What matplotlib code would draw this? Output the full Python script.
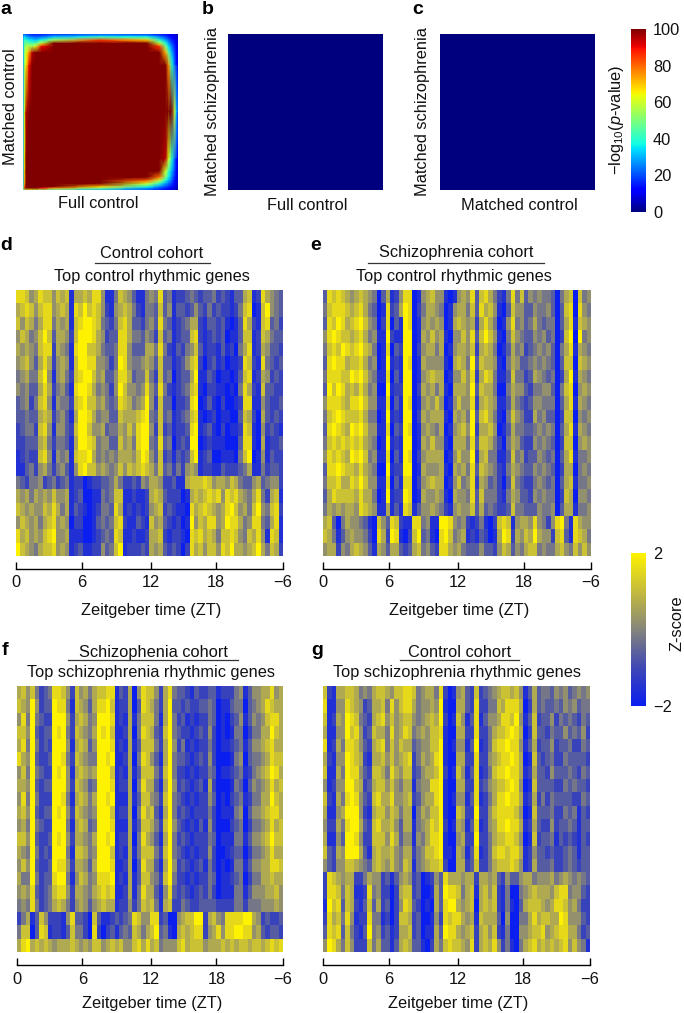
import numpy as np
import matplotlib
matplotlib.use("Agg")
import matplotlib.pyplot as plt
from matplotlib.colors import LinearSegmentedColormap, Normalize
from matplotlib.cm import ScalarMappable

plt.rcParams['font.family'] = ['Liberation Sans', 'DejaVu Sans']
plt.rcParams['mathtext.fontset'] = 'custom'
plt.rcParams['mathtext.rm'] = 'Liberation Sans'
plt.rcParams['mathtext.it'] = 'Liberation Sans:italic'

W, H = 684, 1013

# ---------- data ----------
rank_bins = [0, .01, .02, .04, .06, .08, .12, .2, .5, .8, .88, .92, .94, .96, .98, .99, 1]
overlap_a = [
    [22, 22, 20, 18, 16, 16, 16, 18, 22, 20, 16, 14, 12, 10, 8, 6, 5],
    [25, 28, 24, 20, 18, 18, 18, 22, 26, 24, 18, 15, 13, 11, 9, 7, 6],
    [28, 35, 30, 26, 24, 22, 24, 32, 42, 38, 26, 20, 16, 13, 10, 8, 6],
    [30, 42, 40, 36, 34, 32, 38, 55, 85, 70, 40, 28, 22, 16, 12, 9, 7],
    [30, 45, 48, 46, 44, 45, 60, 100, 100, 100, 58, 38, 28, 20, 14, 10, 8],
    [30, 48, 56, 56, 55, 62, 90, 100, 100, 100, 85, 50, 34, 24, 16, 11, 8],
    [30, 50, 62, 75, 95, 100, 100, 100, 100, 100, 100, 72, 45, 30, 18, 12, 9],
    [28, 50, 65, 90, 100, 100, 100, 100, 100, 100, 100, 100, 75, 40, 22, 14, 10],
    [30, 60, 95, 100, 100, 100, 100, 100, 100, 100, 100, 100, 100, 100, 60, 35, 18],
    [30, 65, 100, 100, 100, 100, 100, 100, 100, 100, 100, 95, 62, 40, 22, 15, 10],
    [30, 68, 100, 100, 100, 100, 100, 100, 100, 100, 100, 60, 42, 30, 18, 12, 8],
    [30, 70, 100, 100, 100, 100, 100, 100, 100, 100, 78, 50, 36, 25, 15, 10, 7],
    [30, 70, 100, 100, 100, 100, 100, 100, 100, 80, 58, 38, 30, 22, 13, 10, 7],
    [32, 72, 100, 100, 100, 100, 100, 100, 100, 60, 40, 28, 23, 18, 11, 8, 6],
    [40, 80, 100, 100, 100, 100, 100, 100, 70, 38, 26, 20, 17, 14, 9, 7, 5],
    [55, 85, 100, 100, 100, 100, 90, 75, 50, 28, 20, 16, 14, 11, 8, 6, 5],
    [30, 45, 60, 65, 62, 58, 50, 42, 30, 20, 15, 12, 10, 8, 6, 5, 4],
]
overlap_b = [[0, 0], [0, 0]]
overlap_c = [[0, 0], [0, 0]]

# Heatmap rows, 60 time columns; digit 0 = z of -2 ... digit 9 = z of +2
heat_d = """
8875687757 6716676885 1147653114 5483412234 3233423213 3671286543
6787578856 7618797875 2156764214 4373513323 5324232212 4780179543
7576468846 5617899874 3247863324 5384312346 6213323101 3862178342
5764579736 6527999865 2338864435 4273412337 8212323011 3771276433
6565478826 5418997764 3348853336 6484213245 7312213120 4681265332
5675368625 6517998855 4249854456 5373312357 8202312011 2872184323
4564479515 6427899756 3358863447 4273402336 9113201101 3781265232
5453368624 5318998645 4259755458 5384212347 8102211010 4862173322
3452478515 4427897756 4348764569 5273302238 9013102001 2881153223
3343367624 5316998645 5337666789 4373412347 8101201100 3762063232
2344278515 5327997556 3446575899 5272312238 9123102011 2871052321
2233367424 4316998745 5337564899 4383402329 9012111000 3881061223
1232278515 4517889645 4546665798 5372313237 9123001110 4790151322
1134256424 5315897756 5457576787 6473424256 5122113222 3461142332
4324452342 3412201223 3464223254 6652231167 7787566576 4335634552
6564656575 5612300114 3477112112 6763222016 7678785878 6546842671
7656557686 4613210124 4386121212 5672321108 6787656897 5647954782
5765646785 6502200134 3478211321 7563212019 5768856988 6458843681
8675657895 5611100123 4387112112 6672122108 7867647787 5476851871
9765467785 6512311225 3479122232 6563232028 6757758796 6567964762
"""
heat_e = """
3878765676 5403612588 0156755101 5658378642 1484735454 4304670745
4788876786 4301823698 0246654015 6647386751 0375533544 5303780854
3879867897 5402803198 0156565016 7656268640 1584534643 4403681765
5898776786 4511921199 0165756105 5758379751 0475433545 3402790945
4787987897 6401803299 0256646015 6657267640 1364523454 5304681654
3898867786 4501912198 0165555106 7649376651 0465334545 4303770765
4888779897 5411803199 0156766015 5758268741 1374423654 3402691654
3979867686 4500912299 0265646106 6659376640 0465532445 5304780565
5888768897 5511803198 0156575015 7558267651 1364323554 4403681654
4789877786 4401912199 0265666106 5649378641 0475422645 3302770545
3898769897 5511803298 0156546015 6759266750 1364433454 5403681654
4787878786 5401912199 0165755106 6648377642 0465322545 4302770565
5878769897 4511803198 0256666015 7559267441 1374523354 3403681445
3889877686 5400912299 0165556106 5648376542 1465433545 4302660454
4778668797 5511803188 0256766015 7458265342 0374322454 3403671445
3687777686 6401912298 0165565106 5548374442 1465332545 4402760554
4656566587 6511613187 1355654215 6557363432 2374433354 4503661445
6730465543 1075387211 8845119985 4521241027 8715665854 2589418655
7641356554 2086298102 7934108974 5612132016 9826576965 5278318764
5662546765 3165366323 6745328865 6433353325 7635467745 4467547575
"""
heat_f = """
6757423488 7527564677 8813260587 7526843321 3223312224 5135566856
7659523398 8417653688 9712260387 6426933232 2334301134 4034568766
5849432299 9526764599 9812161477 7416942312 1224301023 5135457886
7759323398 9427654698 9711260487 6327943221 2325201014 4024466976
6849423299 9516763599 9812161377 7426952412 1224201123 4135567866
8659322399 8427654499 8911260487 5316943321 2325200014 5034456877
5749432298 9516765699 9712161377 7427942212 1224301123 4124567986
6659323399 9527653499 9812260486 6316952321 2316200014 3035456867
5849422299 8416764699 8911161377 5427943212 1225301023 4124466976
6759323398 9527654599 9712260486 7316942321 2224201114 5035567886
5649432299 9416763499 9811161377 6427953212 1315200023 4024456867
7759322398 9526654699 8912260486 5316942321 2224301114 4135567977
6549423299 9417764599 9712161477 7427943212 1225200123 3024456866
5759322398 8526653699 9811260386 6316952321 2314201014 4135566887
6449423389 9415764588 8912161377 5427942212 1224301123 4024466766
5658323478 8526654678 7811261486 6315832321 2324201114 4135556675
4548423467 6425653567 6612252476 7416722432 2333322224 4244455565
2461375222 1583320731 1232348755 8823005677 9926754888 8996523223
4770387122 1374420820 2313437646 7934106767 8825685889 9885632332
6896767656 6676565775 6767557868 6745557867 7756667676 7767767878
"""
heat_g = """
7216677645 4677657788 7456648201 5632723456 7767513634 4354534545
8115587652 3667485788 6455659100 6632822447 6888602634 3343545344
7126598743 2678575677 5456769201 7513813556 8879513723 3524343243
6115597852 3766485687 4565778100 6622822467 7898602733 2433534352
8126488753 2678475766 3455779101 5513912478 8988513623 3523342243
6215598762 1667575678 2465689100 6622822567 8898601732 3422433332
7116498853 2776486577 2356679201 7513812478 8988612633 2533343243
5125599762 3677575466 1455889100 6622823567 7898501733 3322434332
7216489853 2786685567 2356689101 5513812468 8988612624 2433332243
6115699952 1677576466 0465779100 7622922578 8887501733 3422434132
5226489963 2786675366 1456879201 6513812568 8988612632 2523343133
6115399852 2777586355 1546889100 5622922467 7887501723 3413232132
7326599963 1676675466 2457789110 6513812478 8788612533 2322343133
5325577654 3676575476 1456778200 6623722467 7787512633 3422343233
2876566224 6552313565 2301253866 6566266563 2533566455 5645654543
2887476112 8452202677 2300163988 7467167572 1400456766 6578845532
1978376213 7362302587 3201063899 6567067672 1410367776 5688756422
2867485122 8441202776 2300152878 8656176663 0500446867 7669855532
3878374213 9452312667 2301163988 6567267572 1400556778 5678866423
5986475222 7463313676 3310264787 7658267685 2410467867 6767857541
"""
tick_hours = [0, 5.9, 12.1, 18, 24]
tick_labels = ['0', '6', '12', '18', '\u22126']
cohorts = ['Control cohort', 'Schizophrenia cohort', 'Schizophenia cohort', 'Control cohort']
gene_sets = ['Top control rhythmic genes', 'Top control rhythmic genes',
             'Top schizophrenia rhythmic genes', 'Top schizophrenia rhythmic genes']
# --------------------------------------------------

fig = plt.figure(figsize=(W / 100, H / 100), dpi=100, facecolor='white')
FS = 11.8


def axpx(x0, y0, x1, y1):
    return fig.add_axes([x0 / W, 1 - y1 / H, (x1 - x0) / W, (y1 - y0) / H])


def txt(x, y, s, **kw):
    kw.setdefault('ha', 'center')
    kw.setdefault('va', 'center')
    kw.setdefault('fontsize', FS)
    kw.setdefault('color', '#111111')
    return fig.text(x / W, 1 - y / H, s, **kw)


def parse(block):
    rows = [ln.replace(' ', '') for ln in block.strip().splitlines()]
    return (np.array([[int(c) for c in r] for r in rows], float) - 4.5) / 2.25


# top-row panels
ax = axpx(23, 34, 178, 190)
ax.pcolormesh(rank_bins, rank_bins, np.array(overlap_a, float), shading='gouraud',
              cmap='jet', vmin=0, vmax=100, rasterized=True)
ax.set_ylim(1, 0)
ax.set_xlim(0, 1)
ax.axis('off')
for box, mat in (((228, 34, 383, 190), overlap_b), ((440, 34, 595, 190), overlap_c)):
    ax = axpx(*box)
    ax.imshow(mat, cmap='jet', vmin=0, vmax=100, aspect='auto', interpolation='nearest')
    ax.axis('off')

txt(98, 204, 'Full control')
txt(307, 205, 'Full control')
txt(519, 205, 'Matched control')
txt(11, 107, 'Matched control', rotation=90)
txt(212, 112, 'Matched schizophrenia', rotation=90)
txt(422, 112, 'Matched schizophrenia', rotation=90)

# colourbars
cax = axpx(631, 29, 646, 212)
cb = fig.colorbar(ScalarMappable(Normalize(0, 100), 'jet'), cax=cax)
cb.set_ticks([0, 20, 40, 60, 80, 100])
cb.ax.tick_params(length=0, pad=5, labelsize=FS, labelcolor='#111111')
cb.outline.set_visible(False)
txt(616, 120, r'$-$log$_{10}$($\mathit{p}$-value)', rotation=90)

heat_cmap = LinearSegmentedColormap.from_list(
    'bgy', ['#0a1ef0', '#3f48b4', '#85857c', '#c4bb3c', '#fff200'])
cax = axpx(631, 553, 646, 706)
cb = fig.colorbar(ScalarMappable(Normalize(-2, 2), heat_cmap), cax=cax)
cb.set_ticks([-2, 2])
cb.set_ticklabels(['\u22122', '2'])
cb.ax.tick_params(length=0, pad=5, labelsize=FS, labelcolor='#111111')
cb.outline.set_visible(False)
txt(677, 623, 'Z-score', rotation=90)

# heatmaps
boxes = [(16, 290, 283, 556), (323, 290, 591, 556), (17, 686, 283, 952), (323, 686, 590, 952)]
heats = [heat_d, heat_e, heat_f, heat_g]
head = [(152, 253, 95, 210, 263, 152, 277), (456, 253, 368, 544, 263, 454, 277),
        (153, 652, 68, 238, 660, 151, 673), (460, 652, 400, 519, 660, 457, 673)]
for i, (box, heat, (cx, cy, lx0, lx1, ly, sx, sy), co, gs) in enumerate(
        zip(boxes, heats, head, cohorts, gene_sets)):
    ax = axpx(*box)
    ax.imshow(parse(heat), cmap=heat_cmap, vmin=-2, vmax=2, aspect='auto',
              interpolation='nearest', extent=(0, 24, 1, 0))
    for s in ('top', 'left', 'right'):
        ax.spines[s].set_visible(False)
    ax.spines['bottom'].set_position(('outward', 9 if i < 2 else 9.5))
    ax.spines['bottom'].set_linewidth(1.0)
    ax.set_yticks([])
    ax.set_xticks(tick_hours)
    ax.set_xticklabels(tick_labels)
    ax.tick_params(axis='x', direction='in', length=5, width=1.0, pad=5,
                   labelsize=FS, labelcolor='#111111')
    txt(cx, cy, co)
    fig.add_artist(plt.Line2D([lx0 / W, lx1 / W], [1 - ly / H] * 2, color='#333333', lw=0.9))
    txt(sx, sy, gs)
    txt((box[0] + box[2]) / 2 + 2, box[3] + (54 if i < 2 else 51), 'Zeitgeber time (ZT)')

# panel letters
for s, x, y in [('a', 6, 10), ('b', 208, 10), ('c', 418, 10), ('d', 6, 246),
                ('e', 316, 246), ('f', 5, 650), ('g', 317, 650)]:
    txt(x, y, s, fontweight='bold', fontsize=14, color='black')

fig.savefig('out.png', dpi=100)
